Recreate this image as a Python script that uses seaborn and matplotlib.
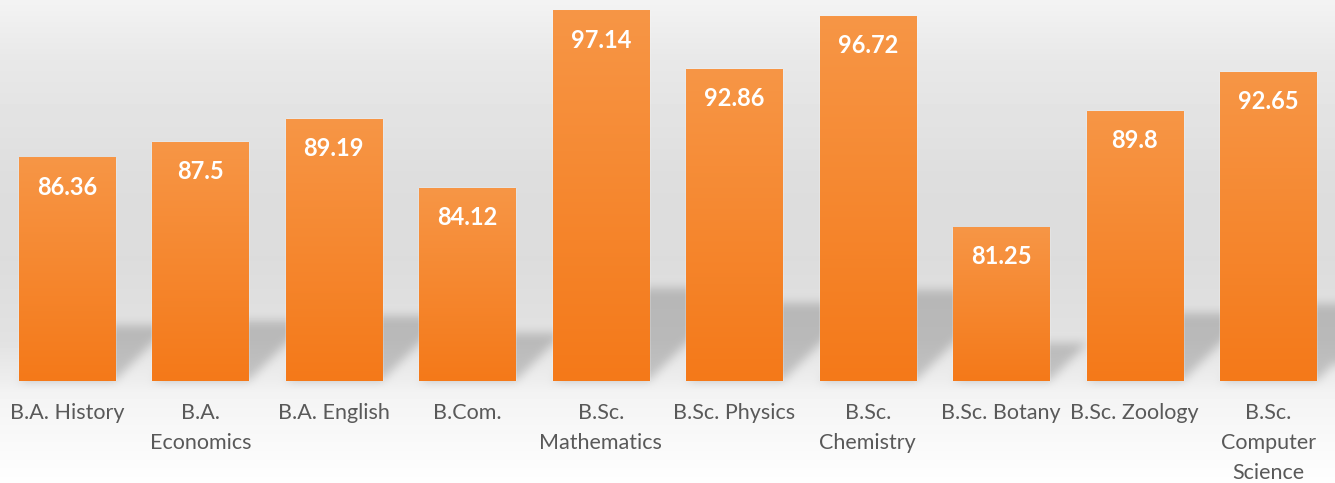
import numpy as np
import pandas as pd
import seaborn as sns
import matplotlib.pyplot as plt
from matplotlib.path import Path

# pass percentage by programme
programs = ["B.A. History", "B.A. Economics", "B.A. English", "B.Com.", "B.Sc. Mathematics",
            "B.Sc. Physics", "B.Sc. Chemistry", "B.Sc. Botany", "B.Sc. Zoology",
            "B.Sc. Computer Science"]
tick_labels = ["B.A. History", "B.A.\nEconomics", "B.A. English", "B.Com.", "B.Sc.\nMathematics",
               "B.Sc. Physics", "B.Sc.\nChemistry", "B.Sc. Botany", "B.Sc. Zoology",
               "B.Sc.\nComputer\nScience"]
pass_pct = [86.36, 87.5, 89.19, 84.12, 97.14, 92.86, 96.72, 81.25, 89.8, 92.65]

Y_MIN, Y_MAX = 70, 97.94
W, H = 1335, 483
BASE_PX = 381

BAR_TOP = np.array([247, 150, 70]) / 255
BAR_BOTTOM = np.array([244, 121, 25]) / 255


def box_blur(a, r, axis):
    pad = [(0, 0), (0, 0)]
    pad[axis] = (r + 1, r)
    c = np.cumsum(np.pad(a, pad, mode="edge"), axis=axis)
    n = a.shape[axis]
    hi = np.take(c, np.arange(2 * r + 1, 2 * r + 1 + n), axis=axis)
    lo = np.take(c, np.arange(0, n), axis=axis)
    return (hi - lo) / (2 * r + 1)


def main():
    sns.set_theme(style="white")
    plt.rcParams["font.family"] = ["Lato", "DejaVu Sans"]

    df = pd.DataFrame({"program": programs, "pct": pass_pct})

    fig = plt.figure(figsize=(W / 100, H / 100), dpi=100)
    bg_ax = fig.add_axes([0, 0, 1, 1], zorder=0)
    ax = fig.add_axes([0, 1 - BASE_PX / H, 1, BASE_PX / H], zorder=1)
    ax.patch.set_alpha(0)

    sns.barplot(data=df, x="program", y="pct", color="#f58a32", saturation=1,
                width=0.72, ax=ax)

    # vertical gradient on every bar
    grad = np.linspace(0, 1, 200)[:, None, None]
    grad_img = BAR_TOP * (1 - grad) + BAR_BOTTOM * grad
    bars = list(ax.patches)
    for p in bars:
        x0 = p.get_x()
        ax.imshow(grad_img, extent=[x0, x0 + p.get_width(), Y_MIN, p.get_height()],
                  aspect="auto", origin="upper", zorder=p.get_zorder() + 0.1)

    ax.set_xlim(-0.5, len(programs) - 0.5)
    ax.set_ylim(Y_MIN, Y_MAX)

    for p, v in zip(bars, pass_pct):
        ax.annotate(f"{v:g}", xy=(p.get_x() + p.get_width() / 2, v), xytext=(0, -21),
                    textcoords="offset points", ha="center", va="center",
                    color="white", fontsize=17, fontweight="bold", zorder=5)

    ax.set_xticks(range(len(programs)))
    ax.set_xticklabels(tick_labels, fontsize=15.5, color="#595959", linespacing=1.62)
    ax.tick_params(axis="x", length=0, pad=16)
    ax.set_yticks([])
    ax.set_xlabel("")
    ax.set_ylabel("")
    sns.despine(ax=ax, left=True, bottom=True)

    # background gradient with soft perspective shadows
    rows = np.arange(H) + 0.5
    stops_y = [0, 60, 180, 260, 340, 380, 395, 483]
    stops_v = [0.953, 0.91, 0.868, 0.863, 0.885, 0.93, 0.955, 0.995]
    img = np.interp(rows, stops_y, stops_v)[:, None] * np.ones((1, W))

    xs, ys = np.meshgrid(np.arange(W) + 0.5, H - rows)
    pts = np.column_stack([xs.ravel(), ys.ravel()])
    mask = np.zeros(H * W)
    trans = ax.transData
    for p, v in zip(bars, pass_pct):
        x0 = p.get_x()
        (px0, pb), (px1, pt) = trans.transform([(x0, Y_MIN), (x0 + p.get_width(), v)])
        s = 0.25 * (pt - pb)
        verts = [(px0, pb), (px1, pb), (px1 + s, pb + s), (px0 + s, pb + s)]
        mask = np.maximum(mask, Path(verts).contains_points(pts))
    mask = mask.reshape(H, W)
    for _ in range(2):
        mask = box_blur(mask, 5, 0)
        mask = box_blur(mask, 5, 1)
    img = img * (1 - 0.18 * mask)

    bg_ax.imshow(img, cmap="gray", vmin=0, vmax=1, extent=[0, W, 0, H],
                 aspect="auto", origin="upper")
    bg_ax.set_xlim(0, W)
    bg_ax.set_ylim(0, H)
    bg_ax.axis("off")

    fig.savefig("out.png", dpi=100)


if __name__ == "__main__":
    main()
